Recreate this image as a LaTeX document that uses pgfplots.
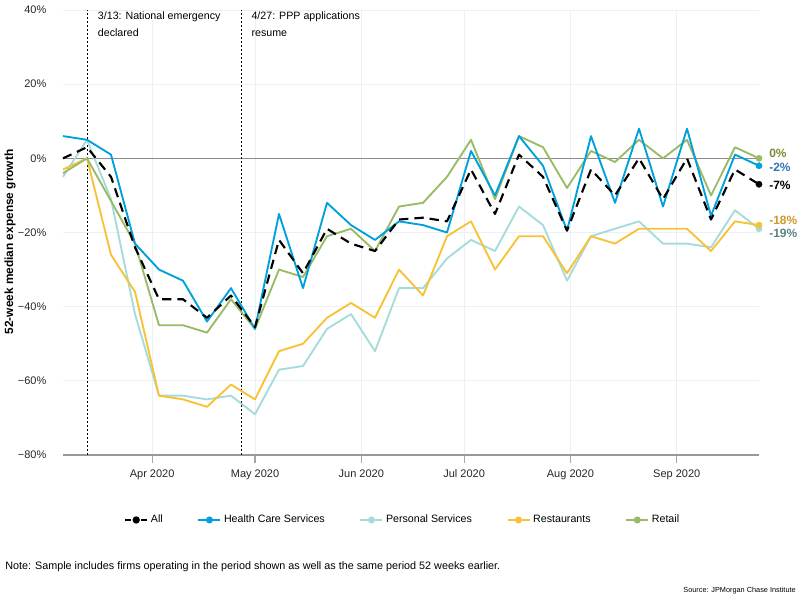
\documentclass[border=0pt]{standalone}
\usepackage{fontspec}
\setmainfont{Liberation Sans}
\usepackage{pgfplots}
\pgfplotsset{compat=1.18}
\definecolor{hc}{RGB}{0,160,221}
\definecolor{ps}{RGB}{166,219,220}
\definecolor{rs}{RGB}{247,194,53}
\definecolor{rt}{RGB}{153,187,102}
\definecolor{gridc}{RGB}{236,239,245}
\definecolor{lrt}{RGB}{122,140,50}
\definecolor{lhc}{RGB}{46,117,182}
\definecolor{lrs}{RGB}{204,153,40}
\definecolor{lps}{RGB}{90,130,130}
\begin{document}
\begin{tikzpicture}
\path[use as bounding box] (0,0) rectangle (600pt,-449.25pt);
\begin{axis}[
  at={(47.25pt,-341.25pt)}, anchor=south west,
  scale only axis, width=522pt, height=333.75pt,
  xmin=5, xmax=208, ymin=-80, ymax=40,
  clip=false,
  axis line style={draw=none},
  xtick={31,61,92,122,153,184},
  xticklabels={Apr 2020,May 2020,Jun 2020,Jul 2020,Aug 2020,Sep 2020},
  ytick={-80,-60,-40,-20,0,20,40},
  yticklabels={−80\%,−60\%,−40\%,−20\%,0\%,20\%,40\%},
  /pgf/number format/assume math mode=true,
  tick label style={font=\fontsize{8.25}{10}\selectfont, text=black!85},
  yticklabel style={xshift=-3pt},
  xticklabel style={yshift=-1pt, text height=6.2pt, text depth=1.8pt},
  tick pos=left, tick align=outside,
  major tick length=6pt,
  xtick style={draw=gray!70, line width=0.8pt},
  ytick style={draw=none},
  grid=major,
  major grid style={draw=gridc, line width=0.6pt},
  legend columns=5,
  legend style={at={(0.4885,-0.146)}, anchor=center, draw=none, fill=none,
    font=\fontsize{8}{10}\selectfont,
    /tikz/every even column/.append style={column sep=24pt}},
  legend cell align=left,
  legend image code/.code={\draw[#1] (0pt,0pt) -- (16.5pt,0pt); \fill[#1,solid] (8.25pt,0pt) circle (1.9pt);},
]
\draw[gray!90, line width=1.1pt] (axis cs:5,0) -- (axis cs:208,0);
\draw[gray!80, line width=1.1pt] (axis cs:5,-80) -- (axis cs:208,-80);
\draw[black, line width=0.75pt, dash pattern=on 1.5pt off 1.5pt] (axis cs:12,-80) -- (axis cs:12,40);
\draw[black, line width=0.75pt, dash pattern=on 1.5pt off 1.5pt] (axis cs:57,-80) -- (axis cs:57,40);

% Personal Services
\addplot[forget plot, ps, line width=1.4pt, line join=round] coordinates {
(5,-5) (12,5) (19,-11) (26,-42) (33,-64) (40,-64) (47,-65) (54,-64) (61,-69) (68,-57)
(75,-56) (82,-46) (89,-42) (96,-52) (103,-35) (110,-35) (117,-27) (124,-22) (131,-25) (138,-13)
(145,-18) (152,-33) (159,-21) (166,-19) (173,-17) (180,-23) (187,-23) (194,-24) (201,-14) (208,-19)};
% Restaurants
\addplot[forget plot, rs, line width=1.4pt, line join=round] coordinates {
(5,-3) (12,0) (19,-26) (26,-36) (33,-64) (40,-65) (47,-67) (54,-61) (61,-65) (68,-52)
(75,-50) (82,-43) (89,-39) (96,-43) (103,-30) (110,-37) (117,-21) (124,-17) (131,-30) (138,-21)
(145,-21) (152,-31) (159,-21) (166,-23) (173,-19) (180,-19) (187,-19) (194,-25) (201,-17) (208,-18)};
% Retail
\addplot[forget plot, rt, line width=1.4pt, line join=round] coordinates {
(5,-4) (12,0) (19,-11.5) (26,-23) (33,-45) (40,-45) (47,-47) (54,-38) (61,-46) (68,-30)
(75,-32) (82,-21) (89,-19) (96,-25) (103,-13) (110,-12) (117,-5) (124,5) (131,-11) (138,6)
(145,3) (152,-8) (159,2) (166,-1) (173,5) (180,0) (187,5) (194,-10) (201,3) (208,0)};
% Health Care Services
\addplot[forget plot, hc, line width=1.4pt, line join=round] coordinates {
(5,6) (12,5) (19,1) (26,-23) (33,-30) (40,-33) (47,-44) (54,-35) (61,-46) (68,-15)
(75,-35) (82,-12) (89,-18) (96,-22) (103,-17) (110,-18) (117,-20) (124,2) (131,-10) (138,6)
(145,-2) (152,-19.5) (159,6) (166,-12) (173,8) (180,-13) (187,8) (194,-15.5) (201,1) (208,-2)};
% All
\addplot[forget plot, black, line width=1.6pt, dash pattern=on 7pt off 4.5pt, line join=round] coordinates {
(5,0) (12,3) (19,-5) (26,-24) (33,-38) (40,-38) (47,-43) (54,-37) (61,-45.5) (68,-22)
(75,-31) (82,-19) (89,-23) (96,-25) (103,-16.5) (110,-16) (117,-17) (124,-3) (131,-15) (138,1)
(145,-5) (152,-19.5) (159,-3) (166,-10) (173,0) (180,-11) (187,0) (194,-16.5) (201,-3) (208,-7)};

% end dots
\addplot[forget plot, only marks, mark=*, mark size=2.3pt, ps] coordinates {(208,-19)};
\addplot[forget plot, only marks, mark=*, mark size=2.3pt, rs] coordinates {(208,-18)};
\addplot[forget plot, only marks, mark=*, mark size=2.3pt, rt] coordinates {(208,0)};
\addplot[forget plot, only marks, mark=*, mark size=2.3pt, hc] coordinates {(208,-2)};
\addplot[forget plot, only marks, mark=*, mark size=2.3pt, black] coordinates {(208,-7)};

\addlegendimage{black, line width=1.6pt, dash pattern=on 4pt off 2pt}
\addlegendentry{All}
\addlegendimage{hc, line width=1.4pt}
\addlegendentry{Health Care Services}
\addlegendimage{ps, line width=1.4pt}
\addlegendentry{Personal Services}
\addlegendimage{rs, line width=1.4pt}
\addlegendentry{Restaurants}
\addlegendimage{rt, line width=1.4pt}
\addlegendentry{Retail}

\node[anchor=west, inner sep=0pt, font=\bfseries\fontsize{9}{10}\selectfont, text=lrt] at (axis cs:208,1.4) [xshift=7.5pt] {0\%};
\node[anchor=west, inner sep=0pt, font=\bfseries\fontsize{9}{10}\selectfont, text=lhc] at (axis cs:208,-2.4) [xshift=7.5pt] {-2\%};
\node[anchor=west, inner sep=0pt, font=\bfseries\fontsize{9}{10}\selectfont, text=black] at (axis cs:208,-7.3) [xshift=7.5pt] {-7\%};
\node[anchor=west, inner sep=0pt, font=\bfseries\fontsize{9}{10}\selectfont, text=lrs] at (axis cs:208,-16.8) [xshift=7.5pt] {-18\%};
\node[anchor=west, inner sep=0pt, font=\bfseries\fontsize{9}{10}\selectfont, text=lps] at (axis cs:208,-20.3) [xshift=7.5pt] {-19\%};

\node[anchor=north west, inner sep=0pt, align=left, font=\fontsize{8}{12.75}\selectfont] at (axis cs:12,40) [xshift=8pt, yshift=-1pt] {3/13: National emergency\\declared};
\node[anchor=north west, inner sep=0pt, align=left, font=\fontsize{8}{12.75}\selectfont] at (axis cs:57,40) [xshift=7.5pt, yshift=-1pt] {4/27: PPP applications\\resume};
\end{axis}
\node[rotate=90, font=\bfseries\fontsize{8.9}{10}\selectfont] at (7.5pt,-181.5pt) {52-week median expense growth};
\node[anchor=west, inner sep=0pt, font=\fontsize{8.1}{9}\selectfont] at (3.75pt,-425.25pt) {Note: Sample includes firms operating in the period shown as well as the same period 52 weeks earlier.};
\node[anchor=east, inner sep=0pt, font=\fontsize{5.5}{7}\selectfont] at (597pt,-443.25pt) {Source: JPMorgan Chase Institute};
\end{tikzpicture}
\end{document}
